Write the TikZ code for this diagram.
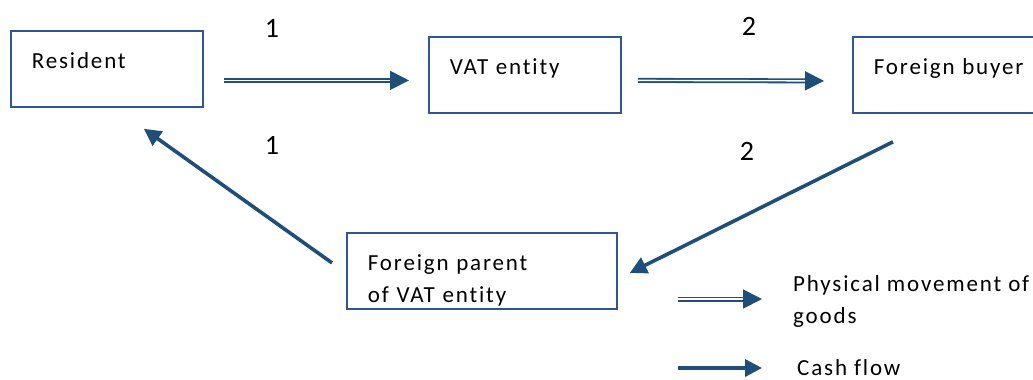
\documentclass[tikz,border=0pt]{standalone}
\usepackage{fontspec}
\setmainfont{Carlito}[LetterSpace=8, Ligatures={NoCommon}]
\usetikzlibrary{arrows.meta}
\definecolor{flujo}{RGB}{31,78,121}
\definecolor{borde}{RGB}{47,85,151}
\tikzset{
  caja/.style={draw=borde, line width=1.8pt, anchor=north west, minimum height=76pt,
    inner xsep=21pt, inner ysep=0pt, align=left, text height=12pt, text depth=12pt},
  bienes/.style={draw=flujo, double=white, double distance=1.4pt, line width=1.8pt,
    -{Triangle[length=19pt,width=19pt]}},
  dinero/.style={draw=flujo, line width=3.6pt, -{Triangle[length=17pt,width=17pt]}},
  paso/.style={anchor=base, font=\fontsize{28}{32}\selectfont},
}
\begin{document}
\begin{tikzpicture}[x=1pt, y=-1pt, font=\fontsize{23}{32}\selectfont]
  % Fija el marco de la figura
  \useasboundingbox (0,0) rectangle (1033,380);

  % Dibuja las cajas de las entidades
  \node[caja, text width=150pt] (res) at (10,30) {Resident};
  \node[caja, text width=150pt] (vat) at (428,36) {VAT entity};
  \node[caja, text width=150pt] (fb) at (852,36) {Foreign buyer};
  \node[caja, text width=228pt] (fp) at (346,232) {Foreign parent\\of VAT entity};

  % Dibuja el movimiento de bienes
  \draw[bienes] ([xshift=20pt,yshift=-11.5pt]res.east) -- ([xshift=-19pt,yshift=-5.5pt]vat.west);
  \draw[bienes] ([xshift=16pt,yshift=-5.5pt]vat.east) -- ([xshift=-28pt,yshift=-6pt]fb.west);

  % Dibuja el flujo de caja
  \draw[dinero] ([xshift=-14pt,yshift=8pt]fp.west) -- ([xshift=37pt,yshift=-21pt]res.south);
  \draw[dinero] ([xshift=41pt,yshift=-28pt]fb.south west) -- ([xshift=12pt,yshift=-2pt]fp.east);

  % Etiqueta los pasos
  \node[paso] (p1a) at (272,37) {1};
  \node[paso] (p2a) at (749,35) {2};
  \node[paso] (p1b) at (272,154) {1};
  \node[paso] (p2b) at (747,160) {2};

  % Dibuja la leyenda
  \coordinate (lbA) at (678,299);
  \coordinate (lbB) at (762,299);
  \coordinate (lcA) at (678,368);
  \coordinate (lcB) at (762,368);
  \draw[bienes] (lbA) -- (lbB);
  \draw[dinero] (lcA) -- (lcB);
  \node[anchor=base west, align=left, inner sep=0pt] (lb) at (793,323) {Physical movement of\\goods};
  \node[anchor=base west, inner sep=0pt] (lc) at (797,375) {Cash flow};
\end{tikzpicture}
\end{document}
